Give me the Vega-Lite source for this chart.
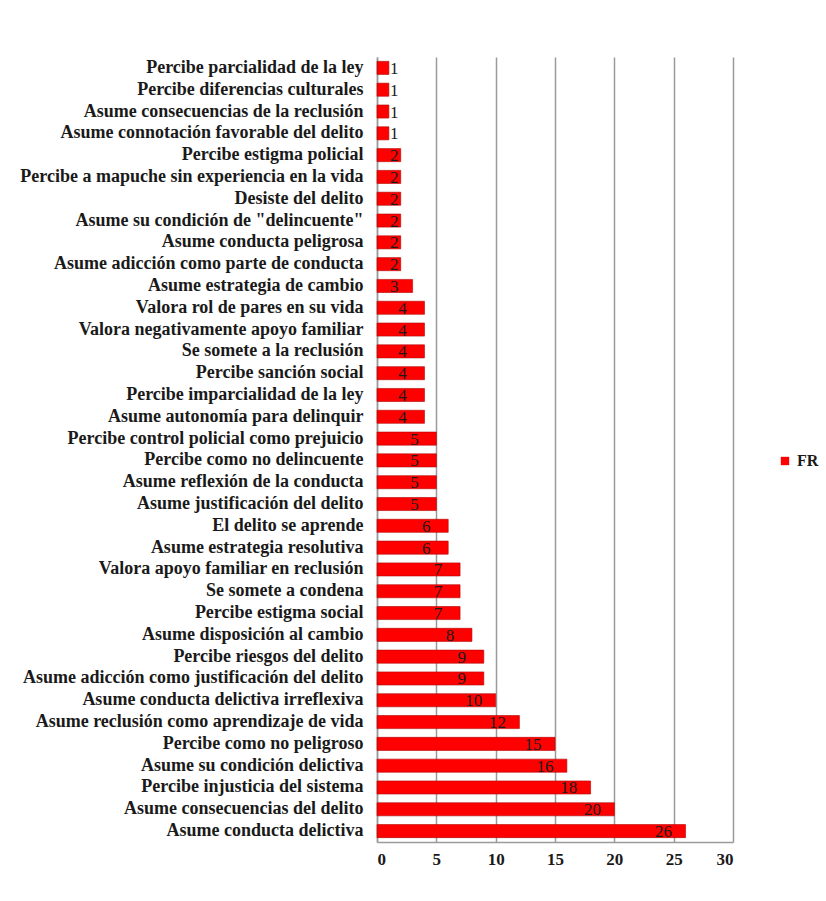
{
  "$schema": "https://vega.github.io/schema/vega-lite/v6.json",
  "width": 356,
  "height": 785,
  "autosize": "none",
  "padding": {"left": 377, "top": 57, "right": 93, "bottom": 59},
  "background": "white",
  "config": {
    "view": {"stroke": null},
    "font": "Liberation Serif"
  },
  "data": {
    "values": [
      {"cat": "Percibe parcialidad de la ley", "FR": 1},
      {"cat": "Percibe diferencias culturales", "FR": 1},
      {"cat": "Asume consecuencias de la reclusión", "FR": 1},
      {"cat": "Asume connotación favorable del delito", "FR": 1},
      {"cat": "Percibe estigma policial", "FR": 2},
      {"cat": "Percibe a mapuche sin experiencia en la vida", "FR": 2},
      {"cat": "Desiste del delito", "FR": 2},
      {"cat": "Asume su condición de \"delincuente\"", "FR": 2},
      {"cat": "Asume conducta peligrosa", "FR": 2},
      {"cat": "Asume adicción como parte de conducta", "FR": 2},
      {"cat": "Asume estrategia de cambio", "FR": 3},
      {"cat": "Valora rol de pares en su vida", "FR": 4},
      {"cat": "Valora negativamente apoyo familiar", "FR": 4},
      {"cat": "Se somete a la reclusión", "FR": 4},
      {"cat": "Percibe sanción social", "FR": 4},
      {"cat": "Percibe imparcialidad de la ley", "FR": 4},
      {"cat": "Asume autonomía para delinquir", "FR": 4},
      {"cat": "Percibe control policial como prejuicio", "FR": 5},
      {"cat": "Percibe como no delincuente", "FR": 5},
      {"cat": "Asume reflexión de la conducta", "FR": 5},
      {"cat": "Asume justificación del delito", "FR": 5},
      {"cat": "El delito se aprende", "FR": 6},
      {"cat": "Asume estrategia resolutiva", "FR": 6},
      {"cat": "Valora apoyo familiar en reclusión", "FR": 7},
      {"cat": "Se somete a condena", "FR": 7},
      {"cat": "Percibe estigma social", "FR": 7},
      {"cat": "Asume disposición al cambio", "FR": 8},
      {"cat": "Percibe riesgos del delito", "FR": 9},
      {"cat": "Asume adicción como justificación del delito", "FR": 9},
      {"cat": "Asume conducta delictiva irreflexiva", "FR": 10},
      {"cat": "Asume reclusión como aprendizaje de vida", "FR": 12},
      {"cat": "Percibe como no peligroso", "FR": 15},
      {"cat": "Asume su condición delictiva", "FR": 16},
      {"cat": "Percibe injusticia del sistema", "FR": 18},
      {"cat": "Asume consecuencias del delito", "FR": 20},
      {"cat": "Asume conducta delictiva", "FR": 26}
    ]
  },
  "encoding": {
    "y": {
      "field": "cat",
      "type": "nominal",
      "sort": null,
      "scale": {"paddingInner": 0.4, "paddingOuter": 0.2},
      "axis": {
        "title": null,
        "labelFont": "Liberation Serif",
        "labelFontWeight": "bold",
        "labelFontSize": 18,
        "labelColor": "#1a1a1a",
        "labelPadding": 14,
        "labelLimit": 400,
        "ticks": false,
        "domainColor": "#9a9a9a",
        "domainWidth": 1.5
      }
    }
  },
  "layer": [
    {
      "mark": {"type": "bar", "color": "#ff0000", "stroke": "#b00000", "strokeWidth": 0.6},
      "encoding": {
        "x": {
          "field": "FR",
          "type": "quantitative",
          "scale": {"domain": [0, 30], "nice": false},
          "axis": {
            "title": null,
            "values": [0, 5, 10, 15, 20, 25, 30],
            "labelFont": "Liberation Serif",
            "labelFontWeight": "bold",
            "labelFontSize": 17,
            "labelColor": "#1a1a1a",
            "labelPadding": 9,
            "ticks": false,
            "grid": true,
            "gridColor": "#9a9a9a",
            "gridWidth": 1.5,
            "domainColor": "#9a9a9a",
            "domainWidth": 1.5
          }
        },
        "color": {
          "datum": "FR",
          "scale": {"range": ["#ff0000"]},
          "legend": {
            "title": null,
            "orient": "none",
            "legendX": 400,
            "legendY": 396,
            "symbolType": "square",
            "symbolSize": 70,
            "symbolStrokeWidth": 0,
            "labelFont": "Liberation Serif",
            "labelFontWeight": "bold",
            "labelFontSize": 16,
            "labelColor": "#1a1a1a",
            "labelOffset": 4
          }
        }
      }
    },
    {
      "transform": [{"calculate": "max(datum.FR - 1.85, 1.45)", "as": "lblpos"}],
      "mark": {"type": "text", "font": "Liberation Serif", "fontSize": 17, "color": "#1a1a1a", "align": "center", "baseline": "middle", "dy": 1},
      "encoding": {
        "x": {"field": "lblpos", "type": "quantitative"},
        "text": {"field": "FR", "type": "quantitative"}
      }
    }
  ]
}
